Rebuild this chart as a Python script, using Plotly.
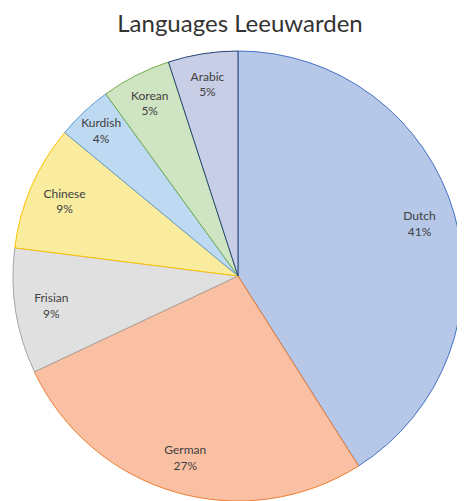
import plotly.graph_objs as go

languages = ['Dutch', 'German', 'Frisian', 'Chinese', 'Kurdish', 'Korean', 'Arabic']
shares = [41, 27, 9, 9, 4, 5, 5]

fill_colors = ['#b6c7e7', '#f9c0a3', '#e0e0e0', '#f9ec9f', '#bed9f2', '#cfe4c2', '#c8cee5']
edge_colors = ['#4472c4', '#ed7d31', '#a5a5a5', '#ffc000', '#5b9bd5', '#70ad47', '#264478']

# page body has an 8px margin, so the pie is placed a bit up/left to compensate
W, H = 465, 501
dom = dict(x=[5 / W, 455 / W], y=[8 / H, 458 / H])

# colored slices
pie = go.Pie(
    labels=languages,
    values=shares,
    sort=False,
    direction='clockwise',
    rotation=0,
    domain=dom,
    marker=dict(colors=fill_colors, line=dict(color=edge_colors, width=1)),
    textinfo='none',
    hoverinfo='label+percent',
    showlegend=False,
)

# transparent ring on top, only to place the labels near the rim
ring = go.Pie(
    labels=languages,
    values=shares,
    sort=False,
    direction='clockwise',
    rotation=0,
    domain=dom,
    hole=0.68,
    marker=dict(colors=['rgba(0,0,0,0)'] * len(languages), line=dict(width=0)),
    texttemplate='%{label}<br>%{percent:.0%}',
    textposition='inside',
    insidetextorientation='horizontal',
    textfont=dict(family='Lato', size=14, color='#404040'),
    hoverinfo='skip',
    showlegend=False,
)

fig = go.Figure(data=[pie, ring])
fig.update_layout(
    width=W,
    height=H,
    margin=dict(l=0, r=0, t=0, b=0),
    paper_bgcolor='white',
    title=dict(
        text='Languages Leeuwarden',
        x=232 / W,
        xanchor='center',
        y=1 - 16 / H,
        yanchor='middle',
        font=dict(family='Lato', size=24, color='#333333'),
    ),
    uniformtext=dict(minsize=9, mode='show'),
)

fig.write_html("out.html")
